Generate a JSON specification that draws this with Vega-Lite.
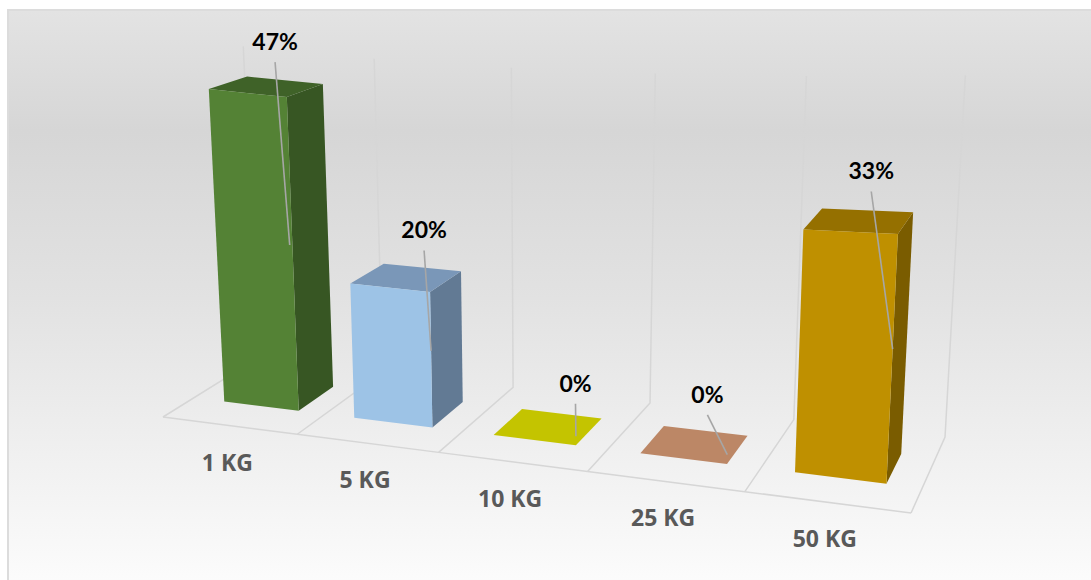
{
  "$schema": "https://vega.github.io/schema/vega-lite/v6.json",
  "width": 1090,
  "height": 577,
  "padding": {"left": 8, "top": 10, "right": 0, "bottom": 0},
  "autosize": "none",
  "background": "#ffffff",
  "view": {
    "stroke": "#dcdcdc",
    "strokeWidth": 2,
    "fill": {
      "x1": 0, "y1": 0, "x2": 0, "y2": 1,
      "gradient": "linear",
      "stops": [
        {"offset": 0, "color": "#e3e3e3"},
        {"offset": 0.21, "color": "#d6d6d6"},
        {"offset": 0.5, "color": "#e2e2e2"},
        {"offset": 1, "color": "#fcfcfc"}
      ]
    }
  },
  "datasets": {
    "shipments": [
      {"pack": "1 KG", "share": 47, "slot": 0},
      {"pack": "5 KG", "share": 20, "slot": 1},
      {"pack": "10 KG", "share": 0, "slot": 2},
      {"pack": "25 KG", "share": 0, "slot": 3},
      {"pack": "50 KG", "share": 33, "slot": 4}
    ],
    "dividers": [
      {"edge": 0}, {"edge": 1}, {"edge": 2}, {"edge": 3}, {"edge": 4}, {"edge": 5}
    ]
  },
  "layer": [
    {
      "description": "Floor depth lines and back-wall uprights, one path per category boundary",
      "data": {"name": "dividers"},
      "transform": [
        {"calculate": "[0,1,2]", "as": "step"},
        {"flatten": ["step"]},
        {"calculate": "datum.edge/5", "as": "u"},
        {"calculate": "datum.step==0?0:1", "as": "v"},
        {"calculate": "datum.step==2?50:0", "as": "h"},
        {"calculate": "1-0.12496*datum.u+0.09498*datum.v", "as": "w"},
        {"calculate": "(634.2*datum.u+119.5*datum.v+163)/datum.w", "as": "fx"},
        {"calculate": "(31.9*datum.u-25*datum.v+417)/datum.w", "as": "fy"},
        {"calculate": "datum.fx+0.00102*(datum.fx-547)*datum.h", "as": "px"},
        {"calculate": "datum.fy-(6.65+1.0*datum.u*datum.u-0.6*(datum.v-0.305))*datum.h", "as": "py"}
      ],
      "mark": {"type": "line", "stroke": "#d6d6d6", "strokeWidth": 1.5},
      "encoding": {
        "x": {"field": "px", "type": "quantitative", "scale": {"domain": [8, 1098], "nice": false, "zero": false}, "axis": null},
        "y": {"field": "py", "type": "quantitative", "scale": {"domain": [587, 10], "nice": false, "zero": false}, "axis": null},
        "detail": {"field": "edge"},
        "order": {"field": "step", "type": "quantitative"}
      }
    },
    {
      "description": "Front edge of the floor",
      "data": {"name": "dividers"},
      "transform": [
        {"calculate": "datum.edge/5", "as": "u"},
        {"calculate": "1-0.12496*datum.u", "as": "w"},
        {"calculate": "(634.2*datum.u+163)/datum.w", "as": "px"},
        {"calculate": "(31.9*datum.u+417)/datum.w", "as": "py"}
      ],
      "mark": {"type": "line", "stroke": "#d6d6d6", "strokeWidth": 1.5},
      "encoding": {
        "x": {"field": "px", "type": "quantitative", "axis": null},
        "y": {"field": "py", "type": "quantitative", "axis": null},
        "order": {"field": "edge", "type": "quantitative"}
      }
    },
    {
      "description": "Three visible faces of each column, projected from its share",
      "data": {"name": "shipments"},
      "transform": [
        {"calculate": "['side','top','front']", "as": "face"},
        {"flatten": ["face"]},
        {"calculate": "[0,1,2,3]", "as": "corner"},
        {"flatten": ["corner"]},
        {"calculate": "datum.pack+' '+datum.face", "as": "paint"},
        {"calculate": "datum.face=='side'||datum.corner==1||datum.corner==2", "as": "isRight"},
        {"calculate": "datum.face=='top'?datum.corner>=2:(datum.face=='side'&&(datum.corner==1||datum.corner==2))", "as": "isBack"},
        {"calculate": "datum.face=='top'||datum.corner>=2", "as": "isRaised"},
        {"calculate": "(datum.slot+0.5)/5+(datum.slot==0?0.004:0)+(datum.isRight?0.0567:-0.0567)", "as": "u"},
        {"calculate": "datum.isBack?0.7:0.305", "as": "v"},
        {"calculate": "datum.isRaised?datum.share:0", "as": "h"},
        {"calculate": "1-0.12496*datum.u+0.09498*datum.v", "as": "w"},
        {"calculate": "(634.2*datum.u+119.5*datum.v+163)/datum.w", "as": "fx"},
        {"calculate": "(31.9*datum.u-25*datum.v+417)/datum.w", "as": "fy"},
        {"calculate": "datum.fx+0.00102*(datum.fx-547)*datum.h", "as": "px"},
        {"calculate": "datum.fy-(6.65+1.0*datum.u*datum.u-0.6*(datum.v-0.305))*datum.h", "as": "py"}
      ],
      "mark": {"type": "line", "strokeWidth": 0},
      "encoding": {
        "x": {"field": "px", "type": "quantitative", "axis": null},
        "y": {"field": "py", "type": "quantitative", "axis": null},
        "order": {"field": "corner", "type": "quantitative"},
        "fill": {
          "field": "paint",
          "type": "nominal",
          "legend": null,
          "scale": {
            "domain": ["1 KG front", "1 KG side", "1 KG top", "5 KG front", "5 KG side", "5 KG top", "10 KG front", "10 KG side", "10 KG top", "25 KG front", "25 KG side", "25 KG top", "50 KG front", "50 KG side", "50 KG top"],
            "range": ["#548235", "#375623", "#3f6228", "#9dc3e6", "#627a94", "#7a97b8", "#c4c400", "#c4c400", "#c4c400", "#bc8766", "#bc8766", "#bc8766", "#bf9000", "#7a5c00", "#957000"]
          }
        }
      }
    },
    {
      "description": "Leader lines from each value label down to its column",
      "data": {"name": "shipments"},
      "transform": [
        {"calculate": "(datum.slot+0.5)/5", "as": "u"},
        {"calculate": "1-0.12496*datum.u+0.09498*0.7", "as": "w"},
        {"calculate": "(634.2*datum.u+119.5*0.7+163)/datum.w", "as": "fx"},
        {"calculate": "(31.9*datum.u-25*0.7+417)/datum.w", "as": "fy"},
        {"calculate": "datum.fx+0.00102*(datum.fx-547)*datum.share+[-7,2,14,2,4][datum.slot]", "as": "labelX"},
        {"calculate": "datum.fy-(6.65+1.0*datum.u*datum.u-0.6*0.395)*datum.share+[-37,-36,-29,-35,-38][datum.slot]+19", "as": "startY"},
        {"calculate": "datum.u+0.0567", "as": "ue"},
        {"calculate": "datum.share/2+1.3", "as": "he"},
        {"calculate": "1-0.12496*datum.ue+0.09498*0.305", "as": "we"},
        {"calculate": "(634.2*datum.ue+119.5*0.305+163)/datum.we", "as": "ex"},
        {"calculate": "(31.9*datum.ue-25*0.305+417)/datum.we", "as": "ey"},
        {"calculate": "datum.ex+0.00102*(datum.ex-547)*datum.he", "as": "endX"},
        {"calculate": "datum.ey-(6.65+1.0*datum.ue*datum.ue)*datum.he", "as": "endY"}
      ],
      "mark": {"type": "rule", "stroke": "#a6a6a6", "strokeWidth": 1.6},
      "encoding": {
        "x": {"field": "labelX", "type": "quantitative", "axis": null},
        "y": {"field": "startY", "type": "quantitative", "axis": null},
        "x2": {"field": "endX"},
        "y2": {"field": "endY"}
      }
    },
    {
      "description": "Value labels above the columns",
      "data": {"name": "shipments"},
      "transform": [
        {"calculate": "(datum.slot+0.5)/5", "as": "u"},
        {"calculate": "1-0.12496*datum.u+0.09498*0.7", "as": "w"},
        {"calculate": "(634.2*datum.u+119.5*0.7+163)/datum.w", "as": "fx"},
        {"calculate": "(31.9*datum.u-25*0.7+417)/datum.w", "as": "fy"},
        {"calculate": "datum.fx+0.00102*(datum.fx-547)*datum.share+[-7,2,14,2,4][datum.slot]", "as": "labelX"},
        {"calculate": "datum.fy-(6.65+1.0*datum.u*datum.u-0.6*0.395)*datum.share+[-37,-36,-29,-35,-38][datum.slot]", "as": "labelY"},
        {"calculate": "datum.share+'%'", "as": "shareText"}
      ],
      "mark": {"type": "text", "font": "Lato", "fontWeight": "bold", "fontSize": 23, "color": "#000000", "align": "center", "baseline": "middle"},
      "encoding": {
        "x": {"field": "labelX", "type": "quantitative", "axis": null},
        "y": {"field": "labelY", "type": "quantitative", "axis": null},
        "text": {"field": "shareText"}
      }
    },
    {
      "description": "Pack-size labels in front of the floor",
      "data": {"name": "shipments"},
      "transform": [
        {"calculate": "(datum.slot+0.5)/5", "as": "u"},
        {"calculate": "1-0.12496*datum.u", "as": "w"},
        {"calculate": "(634.2*datum.u+163)/datum.w", "as": "px"},
        {"calculate": "(31.9*datum.u+417)/datum.w", "as": "py"}
      ],
      "mark": {"type": "text", "font": "Open Sans", "fontWeight": "bold", "fontSize": 23, "color": "#595959", "align": "center", "baseline": "middle", "dx": -2, "dy": 38},
      "encoding": {
        "x": {"field": "px", "type": "quantitative", "axis": null},
        "y": {"field": "py", "type": "quantitative", "axis": null},
        "text": {"field": "pack"}
      }
    }
  ]
}
